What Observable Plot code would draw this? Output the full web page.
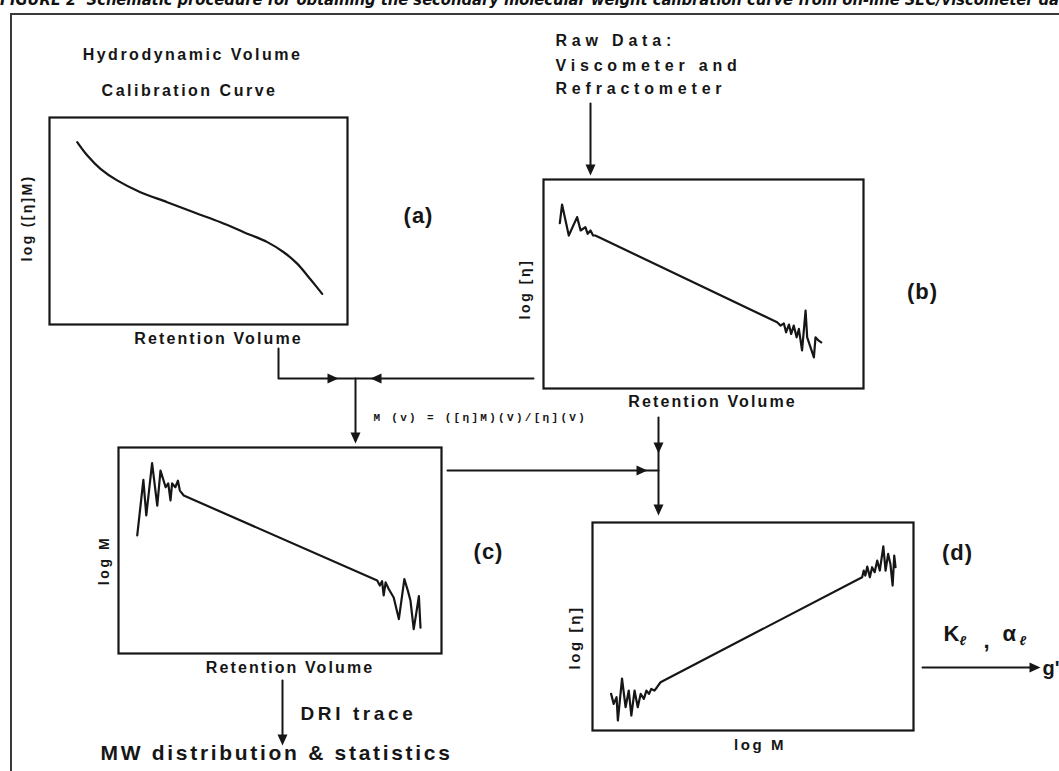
<!DOCTYPE html>
<html><head><meta charset="utf-8">
<script src="https://cdn.jsdelivr.net/npm/d3@7"></script>
<script src="https://cdn.jsdelivr.net/npm/@observablehq/plot@0.6"></script>
<style>
html,body{margin:0;padding:0;background:#fff;}
#page{position:relative;width:1059px;height:771px;overflow:hidden;background:#fff;}
#title{position:absolute;left:0;top:-8px;white-space:nowrap;font:italic bold 16px "Liberation Sans Narrow","DejaVu Sans Condensed","Liberation Sans",sans-serif;color:#111;transform-origin:0 0;line-height:16px;}
#border{position:absolute;left:10px;top:13px;width:1100px;height:800px;border-left:2px solid #3a3a3a;border-top:2px solid #3a3a3a;}
#page svg{position:absolute;}
</style></head><body>
<div id="page">
  <div id="title">FIGURE 2&nbsp; Schematic procedure for obtaining the secondary molecular weight calibration curve from on-line SEC/viscometer data</div>
  <div id="border"></div>
</div>
<script>
// ---------- data (panel units 0–100) ----------
// (a) hydrodynamic volume calibration curve
const calibVolume   = [9.3, 12.7, 17.1, 22.7, 30.5, 39.5, 48.4, 57.4, 65.2, 73.1, 78.6, 83.2, 86.5, 89.3, 91.5];
const calibLogEtaM  = [88.1, 81.6, 75.2, 69.6, 63.9, 59.1, 54.2, 49.4, 44.6, 39.8, 34.9, 29.3, 23.7, 18.8, 14.8];
// (b) raw viscometer data
const rawVolume = [5.1, 5.8, 7.9, 10.5, 11.6, 13.1, 13.8, 14.7, 15.5, 16.2, 73.0, 74.1, 75.1, 75.8, 76.7, 77.4, 78.2, 79.1, 79.8, 80.8, 81.9, 82.4, 84.5, 85.0, 86.0, 86.8];
const rawLogEta = [79.1, 88.0, 73.2, 82.0, 75.6, 77.2, 74.0, 75.6, 73.2, 73.2, 31.7, 30.1, 31.2, 26.9, 30.6, 26.1, 30.1, 24.5, 28.5, 18.2, 37.3, 24.5, 14.9, 24.5, 22.9, 22.1];
// (c) molecular weight vs retention volume
const mwVolume = [5.8, 7.7, 8.6, 10.4, 12.0, 13.0, 14.6, 15.4, 16.1, 16.6, 17.6, 18.4, 19.0, 20.2, 80.1, 80.9, 81.6, 82.1, 82.7, 83.7, 85.2, 86.8, 88.5, 89.6, 90.4, 91.4, 92.3, 93.0, 93.5];
const mwLogM   = [57.3, 84.3, 67.0, 92.4, 71.8, 88.8, 80.7, 82.6, 74.3, 82.6, 80.7, 83.9, 79.1, 76.7, 35.4, 33.0, 35.1, 28.2, 34.5, 31.2, 27.2, 16.7, 36.1, 30.4, 25.6, 11.8, 20.7, 27.9, 12.5];
// (d) Mark–Houwink plot
const mhLogM   = [5.8, 6.6, 7.5, 7.9, 9.2, 10.3, 11.3, 12.1, 13.1, 14.1, 15.0, 16.0, 16.8, 17.6, 18.3, 19.3, 20.1, 21.2, 84.0, 84.5, 85.0, 85.6, 86.4, 87.1, 87.9, 88.7, 89.5, 90.6, 91.3, 92.1, 92.8, 93.5, 94.0, 94.4];
const mhLogEta = [17.6, 12.8, 16.0, 4.8, 24.9, 11.2, 19.2, 7.2, 19.2, 11.2, 17.6, 15.2, 19.2, 17.6, 20.0, 19.2, 20.8, 23.2, 73.7, 76.9, 74.5, 78.8, 73.7, 78.5, 76.1, 81.7, 76.9, 88.5, 76.9, 84.9, 80.1, 69.7, 84.1, 78.5];

// ---------- text ----------
const panelXLabels = ["Retention Volume", "Retention Volume", "Retention Volume", "log M"];
const panelYLabels = ["log ([η]M)", "log [η]", "log M", "log [η]"];
const panelTags = ["(a)", "(b)", "(c)", "(d)"];

// ---------- layout ----------
const ink = "#161616";
const sans = "'Liberation Sans', Arial, Helvetica, sans-serif";
const mono = "'Liberation Mono', 'DejaVu Sans Mono', monospace";
const spacing = new Map();

const panels = [
  {box:[49,117,347,324], xs:calibVolume, ys:calibLogEtaM, curve:"catmull-rom", xl:{dx:20, dy:14, size:16, sp:2.1}, yl:{dx:-22, dy:-3, size:14, sp:2.3}},
  {box:[543,179,863,388], xs:rawVolume, ys:rawLogEta, curve:"linear", xl:{dx:9, dy:13, size:16, sp:2.1}, yl:{dx:-18, dy:5, size:14, sp:2.2}},
  {box:[118,447,441,653], xs:mwVolume, ys:mwLogM, curve:"linear", xl:{dx:10, dy:14, size:16, sp:2.1}, yl:{dx:-14, dy:10, size:14, sp:2.7}},
  {box:[592,522,913,730], xs:mhLogM, ys:mhLogEta, curve:"linear", xl:{dx:7, dy:15, size:15, sp:2.6}, yl:{dx:-17, dy:11, size:15, sp:2.6}}
];
const mL = 45, mR = 10, mT = 10, mB = 30;
const page = document.getElementById("page");

panels.forEach((p, i) => {
  const [x0, y0, x1, y1] = p.box;
  const w = x1 - x0, h = y1 - y0;
  const data = p.xs.map((x, k) => ({x, y: p.ys[k]}));
  spacing.set(panelXLabels[i], p.xl.sp);
  spacing.set(panelYLabels[i], p.yl.sp);
  const svg = Plot.plot({
    width: w + mL + mR, height: h + mT + mB,
    marginLeft: mL, marginRight: mR, marginTop: mT, marginBottom: mB,
    x: {domain: [0, 100], axis: null},
    y: {domain: [0, 100], axis: null},
    style: {background: "transparent", overflow: "visible"},
    marks: [
      Plot.frame({stroke: ink, strokeWidth: 2.2}),
      Plot.line(data, {x: "x", y: "y", stroke: ink, strokeWidth: 2.2, curve: p.curve, strokeLinejoin: "round"}),
      Plot.text([panelXLabels[i]], {text: d => d, frameAnchor: "bottom", textAnchor: "middle", lineAnchor: "middle", dx: p.xl.dx, dy: p.xl.dy, fontSize: p.xl.size, fontWeight: "bold", fontFamily: sans, fill: ink}),
      Plot.text([panelYLabels[i]], {text: d => d, frameAnchor: "left", textAnchor: "middle", lineAnchor: "middle", rotate: -90, dx: p.yl.dx, dy: p.yl.dy, fontSize: p.yl.size, fontWeight: "bold", fontFamily: sans, fill: ink})
    ]
  });
  svg.style.left = (x0 - mL) + "px";
  svg.style.top = (y0 - mT) + "px";
  page.appendChild(svg);
});

// connectors of the flow diagram (page pixels)
const connectors = [
  {id: "raw",   pts: [[590,103],[590,170]]},
  {id: "aOut",  pts: [[278,348],[278,378],[533,378]]},
  {id: "join",  pts: [[355,378],[355,440]]},
  {id: "bDown", pts: [[658,417],[658,511]]},
  {id: "cOut",  pts: [[447,470],[658,470]]},
  {id: "cDown", pts: [[282,680],[282,741]]},
  {id: "kOut",  pts: [[922,667],[1036,667]]}
];
const heads = [
  {x:590, y:175, dir:180}, {x:338, y:378, dir:90}, {x:370, y:378, dir:-90},
  {x:355, y:443, dir:180}, {x:658, y:453, dir:180}, {x:658, y:515, dir:180},
  {x:647, y:470, dir:90},  {x:282, y:745, dir:180}, {x:1040, y:667, dir:90}
];
const notes = [
  {text:"Hydrodynamic Volume", x:192, y:54, size:16, anchor:"middle", sp:2.5},
  {text:"Calibration Curve", x:189, y:90, size:16, anchor:"middle", sp:2.5},
  {text:"Raw Data:", x:555, y:40, size:16, anchor:"start", sp:4.8},
  {text:"Viscometer and", x:555, y:65, size:16, anchor:"start", sp:4.8},
  {text:"Refractometer", x:555, y:88, size:16, anchor:"start", sp:4.8},
  {text:panelTags[0], x:418, y:215, size:22, anchor:"middle", sp:1},
  {text:panelTags[1], x:922, y:291, size:22, anchor:"middle", sp:1},
  {text:panelTags[2], x:488, y:551, size:22, anchor:"middle", sp:1},
  {text:panelTags[3], x:957, y:552, size:22, anchor:"middle", sp:1},
  {text:"M (v) = ([η]M)(V)/[η](V)", x:373, y:417, size:11, anchor:"start", sp:2.3, family:mono},
  {text:"DRI trace", x:300, y:713, size:19, anchor:"start", sp:3.6},
  {text:"MW distribution & statistics", x:100, y:753, size:21, anchor:"start", sp:2.7},
  {text:"K", x:943, y:633, size:22, anchor:"start", sp:0},
  {text:"ℓ", x:959, y:640, size:13, anchor:"start", sp:0, style:"italic"},
  {text:",", x:983, y:640, size:22, anchor:"start", sp:0},
  {text:"α", x:1002, y:633, size:22, anchor:"start", sp:0},
  {text:"ℓ", x:1019, y:640, size:13, anchor:"start", sp:0, style:"italic"},
  {text:"g'", x:1042, y:668, size:20, anchor:"start", sp:0}
];
notes.forEach(n => { if (n.sp) spacing.set(n.text, n.sp); });

const arrowHead = {draw(ctx) { ctx.moveTo(0, 0); ctx.lineTo(5, 11); ctx.lineTo(-5, 11); ctx.closePath(); }};
const connRows = connectors.flatMap(c => c.pts.map(([x, y]) => ({id: c.id, x, y})));

const overlay = Plot.plot({
  width: 1059, height: 771, margin: 0,
  x: {type: "identity", axis: null}, y: {type: "identity", axis: null},
  style: {background: "transparent"},
  marks: [
    Plot.line(connRows, {x: "x", y: "y", z: "id", stroke: ink, strokeWidth: 2}),
    Plot.dot(heads, {x: "x", y: "y", rotate: "dir", symbol: arrowHead, r: 4, fill: ink, stroke: "none"}),
    ...notes.map(n => Plot.text([n], {
      x: "x", y: "y", text: "text", textAnchor: n.anchor, lineAnchor: "middle", fontSize: n.size,
      fontWeight: "bold", fontStyle: n.style || "normal", fontFamily: n.family || sans, fill: ink
    }))
  ]
});
overlay.style.left = "0px"; overlay.style.top = "0px";
page.appendChild(overlay);

// letter spacing of the typewritten labels
d3.select(page).selectAll("svg text").each(function() {
  const s = spacing.get(this.textContent);
  if (s) this.setAttribute("letter-spacing", s);
});

// fit the clipped caption so that "...viscometer da" reaches the right edge
const title = document.getElementById("title");
const probe = document.createElement("span");
probe.style.cssText = "position:absolute;visibility:hidden;white-space:nowrap;font:" + getComputedStyle(title).font;
probe.innerHTML = "FIGURE 2&nbsp; Schematic procedure for obtaining the secondary molecular weight calibration curve from on-line SEC/viscometer da";
document.body.appendChild(probe);
const pw = probe.getBoundingClientRect().width;
probe.remove();
title.style.transform = "scaleX(" + (1059 / pw) + ")";
</script>
</body></html>
